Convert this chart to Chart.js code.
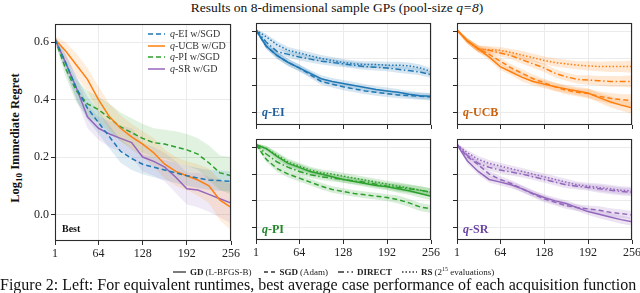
<!DOCTYPE html>
<html><head><meta charset="utf-8">
<script src="https://cdn.jsdelivr.net/npm/chart.js@4.4.0/dist/chart.umd.min.js"></script>
<style>
html,body{margin:0;padding:0;background:#fff;overflow:hidden;width:640px;height:293px;}
body{position:relative;font-family:"Liberation Serif","DejaVu Serif",serif;color:#111;}
.box{position:absolute;}
.txt{position:absolute;white-space:nowrap;}
.lbl{position:absolute;white-space:nowrap;font-weight:bold;font-size:12px;line-height:12px;}
.lg{position:absolute;font-size:10px;line-height:11.7px;color:#333;}
.lg div{display:flex;align-items:center;}
.lg svg{margin-right:5px;}
.blg{position:absolute;font-size:9px;display:flex;align-items:center;color:#222;}
.blg svg{margin-right:4px;}
.blg b{margin-right:2px;}
</style></head><body>

<div class="txt" style="left:0;width:674px;top:0;text-align:center;font-size:13.5px;">Results on 8-dimensional sample GPs (pool-size <i>q=8</i>)</div>
<div class="txt" style="left:16px;top:138px;font-size:12.5px;font-weight:bold;transform:translate(-50%,-50%) rotate(-90deg);">Log<sub style="font-size:9px">10</sub> Immediate Regret</div>

<div class="box" style="left:20px;top:15px;"><canvas id="chBest" width="223" height="250"></canvas></div>
<div class="box" style="left:244px;top:17px;"><canvas id="chEI" width="199" height="114"></canvas></div>
<div class="box" style="left:445px;top:17px;"><canvas id="chUCB" width="199" height="114"></canvas></div>
<div class="box" style="left:244px;top:133px;"><canvas id="chPI" width="199" height="131"></canvas></div>
<div class="box" style="left:445px;top:133px;"><canvas id="chSR" width="199" height="131"></canvas></div>

<div class="lg" style="left:148px;top:28px;">
  <div><svg width="17" height="4"><line x1="0" y1="2" x2="17" y2="2" stroke="#1f77b4" stroke-width="1.5" stroke-dasharray="5,3"/></svg><span><i>q</i>-EI w/SGD</span></div>
  <div><svg width="17" height="4"><line x1="0" y1="2" x2="17" y2="2" stroke="#ff7f0e" stroke-width="1.5"/></svg><span><i>q</i>-UCB w/GD</span></div>
  <div><svg width="17" height="4"><line x1="0" y1="2" x2="17" y2="2" stroke="#2ca02c" stroke-width="1.5" stroke-dasharray="5,3"/></svg><span><i>q</i>-PI w/SGD</span></div>
  <div><svg width="17" height="4"><line x1="0" y1="2" x2="17" y2="2" stroke="#9467bd" stroke-width="1.5"/></svg><span><i>q</i>-SR w/GD</span></div>
</div>

<div class="lbl" style="left:62px;top:223px;font-size:10px;color:#111;">Best</div>
<div class="lbl" style="left:262px;top:106px;color:#1f5f9c;"><i>q</i>-EI</div>
<div class="lbl" style="left:463px;top:106px;color:#c8600c;"><i>q</i>-UCB</div>
<div class="lbl" style="left:262px;top:223px;color:#23862a;"><i>q</i>-PI</div>
<div class="lbl" style="left:463px;top:223px;color:#6a46a3;"><i>q</i>-SR</div>

<div class="blg" style="left:173px;top:266px;">
  <svg width="13" height="4"><line x1="0" y1="2" x2="13" y2="2" stroke="#333" stroke-width="1.3"/></svg><b>GD</b><span style="margin-right:12px">(L-BFGS-B)</span>
  <svg width="12" height="4"><line x1="0" y1="2" x2="12" y2="2" stroke="#333" stroke-width="1.3" stroke-dasharray="4,3"/></svg><b>SGD</b><span style="margin-right:10px">(Adam)</span>
  <svg width="15" height="4"><line x1="0" y1="2" x2="15" y2="2" stroke="#333" stroke-width="1.3" stroke-dasharray="6,3,1.5,3"/></svg><b style="margin-right:10px">DIRECT</b>
  <svg width="15" height="4"><line x1="0" y1="2" x2="15" y2="2" stroke="#333" stroke-width="1.3" stroke-dasharray="1.5,2"/></svg><b>RS</b><span>(2<sup style="font-size:6px">15</sup> evaluations)</span>
</div>

<div class="txt" style="left:0;top:277px;font-size:16px;line-height:16.5px;">Figure 2: Left: For equivalent runtimes, best average case performance of each acquisition function</div>

<script>
// evaluation counts and axis ticks
const evals = [1, 16, 32, 48, 64, 80, 96, 112, 128, 144, 160, 176, 192, 208, 224, 240, 256];
const xTicks = [1, 64, 128, 192, 256];
const yTicks = [0, 0.2, 0.4, 0.6];

// left panel: best optimizer per acquisition function
const bestEI  = [0.61, 0.53, 0.44, 0.37, 0.32, 0.27, 0.22, 0.195, 0.175, 0.165, 0.155, 0.145, 0.135, 0.127, 0.12, 0.118, 0.115];
const bestUCB = [0.61, 0.57, 0.52, 0.47, 0.40, 0.34, 0.30, 0.27, 0.245, 0.215, 0.175, 0.15, 0.135, 0.12, 0.10, 0.05, 0.025];
const bestPI  = [0.61, 0.51, 0.43, 0.385, 0.365, 0.335, 0.305, 0.285, 0.265, 0.25, 0.245, 0.235, 0.225, 0.21, 0.18, 0.145, 0.135];
const bestSR  = [0.61, 0.53, 0.44, 0.34, 0.30, 0.28, 0.265, 0.25, 0.20, 0.185, 0.165, 0.13, 0.09, 0.085, 0.07, 0.055, 0.04];
const bestEIErr  = [0.01, 0.03, 0.04, 0.04, 0.04, 0.04, 0.04, 0.04, 0.035, 0.035, 0.035, 0.035, 0.035, 0.035, 0.035, 0.035, 0.035];
const bestUCBErr = [0.01, 0.03, 0.04, 0.04, 0.045, 0.045, 0.045, 0.045, 0.045, 0.05, 0.05, 0.05, 0.05, 0.055, 0.06, 0.07, 0.08];
const bestPIErr  = [0.01, 0.03, 0.04, 0.045, 0.045, 0.05, 0.05, 0.05, 0.05, 0.05, 0.05, 0.055, 0.055, 0.055, 0.06, 0.06, 0.065];
const bestSRErr  = [0.01, 0.03, 0.04, 0.04, 0.04, 0.045, 0.045, 0.05, 0.05, 0.05, 0.05, 0.055, 0.055, 0.06, 0.06, 0.065, 0.07];

// q-EI
const eiGD     = [0.61, 0.49, 0.42, 0.37, 0.33, 0.29, 0.25, 0.23, 0.215, 0.20, 0.185, 0.17, 0.16, 0.15, 0.135, 0.125, 0.12];
const eiSGD    = [0.61, 0.49, 0.42, 0.37, 0.33, 0.28, 0.23, 0.21, 0.19, 0.175, 0.16, 0.15, 0.14, 0.13, 0.125, 0.12, 0.115];
const eiDIRECT = [0.61, 0.52, 0.45, 0.43, 0.41, 0.395, 0.38, 0.37, 0.36, 0.35, 0.34, 0.335, 0.33, 0.32, 0.31, 0.30, 0.28];
const eiRS     = [0.61, 0.56, 0.50, 0.46, 0.44, 0.42, 0.40, 0.385, 0.37, 0.36, 0.355, 0.355, 0.35, 0.35, 0.345, 0.33, 0.305];
const eiErr    = [0.01, 0.02, 0.025, 0.025, 0.025, 0.025, 0.025, 0.025, 0.025, 0.025, 0.025, 0.025, 0.025, 0.025, 0.025, 0.025, 0.025];

// q-UCB
const ucbGD     = [0.61, 0.53, 0.47, 0.41, 0.34, 0.30, 0.26, 0.23, 0.21, 0.19, 0.175, 0.16, 0.145, 0.11, 0.08, 0.055, 0.035];
const ucbSGD    = [0.61, 0.53, 0.47, 0.43, 0.38, 0.33, 0.29, 0.25, 0.22, 0.19, 0.165, 0.15, 0.14, 0.12, 0.105, 0.095, 0.09];
const ucbDIRECT = [0.61, 0.53, 0.47, 0.46, 0.44, 0.42, 0.39, 0.36, 0.33, 0.29, 0.265, 0.245, 0.24, 0.235, 0.23, 0.23, 0.23];
const ucbRS     = [0.61, 0.53, 0.47, 0.465, 0.46, 0.445, 0.425, 0.405, 0.385, 0.37, 0.36, 0.35, 0.345, 0.34, 0.34, 0.34, 0.34];
const ucbErr    = [0.01, 0.02, 0.025, 0.025, 0.025, 0.025, 0.03, 0.03, 0.03, 0.03, 0.03, 0.03, 0.035, 0.035, 0.04, 0.04, 0.045];

// q-PI
const piGD     = [0.62, 0.59, 0.53, 0.48, 0.45, 0.42, 0.40, 0.38, 0.36, 0.345, 0.33, 0.315, 0.305, 0.29, 0.275, 0.255, 0.235];
const piSGD    = [0.62, 0.51, 0.44, 0.40, 0.37, 0.34, 0.31, 0.285, 0.27, 0.255, 0.245, 0.235, 0.225, 0.21, 0.185, 0.155, 0.14];
const piDIRECT = [0.62, 0.55, 0.49, 0.45, 0.42, 0.395, 0.38, 0.37, 0.36, 0.35, 0.34, 0.325, 0.31, 0.30, 0.29, 0.28, 0.265];
const piRS     = [0.62, 0.59, 0.54, 0.49, 0.46, 0.43, 0.41, 0.40, 0.385, 0.37, 0.355, 0.34, 0.325, 0.31, 0.295, 0.28, 0.265];
const piErr    = [0.01, 0.02, 0.025, 0.025, 0.025, 0.025, 0.025, 0.025, 0.025, 0.025, 0.025, 0.025, 0.025, 0.03, 0.03, 0.03, 0.03];

// q-SR
const srGD     = [0.62, 0.50, 0.42, 0.36, 0.34, 0.32, 0.29, 0.255, 0.225, 0.20, 0.18, 0.15, 0.12, 0.10, 0.08, 0.06, 0.045];
const srSGD    = [0.62, 0.53, 0.47, 0.40, 0.36, 0.33, 0.29, 0.25, 0.215, 0.19, 0.165, 0.15, 0.14, 0.13, 0.115, 0.105, 0.095];
const srDIRECT = [0.62, 0.54, 0.48, 0.45, 0.43, 0.415, 0.40, 0.38, 0.36, 0.34, 0.32, 0.31, 0.30, 0.29, 0.28, 0.27, 0.265];
const srRS     = [0.62, 0.56, 0.51, 0.48, 0.46, 0.44, 0.42, 0.40, 0.38, 0.36, 0.34, 0.32, 0.31, 0.30, 0.29, 0.28, 0.275];
const srErr    = [0.01, 0.02, 0.025, 0.025, 0.025, 0.025, 0.025, 0.025, 0.025, 0.025, 0.025, 0.025, 0.025, 0.03, 0.03, 0.03, 0.03];

const C = { ei: '#1f77b4', ucb: '#ff7f0e', pi: '#2ca02c', sr: '#9467bd' };
const dashes = { gd: [], sgd: [5, 3], direct: [6, 2.5, 1.5, 2.5], rs: [1.5, 2] };

const rgba = (hex, a) => {
  const n = parseInt(hex.slice(1), 16);
  return `rgba(${n >> 16},${(n >> 8) & 255},${n & 255},${a})`;
};
const pts = arr => arr.map((v, i) => ({ x: evals[i], y: v }));

// plot frame on all four sides (matplotlib spines)
const frame = {
  id: 'frame',
  afterDraw(c) {
    const a = c.chartArea, x = c.ctx;
    x.save();
    x.strokeStyle = '#2b2b2b'; x.lineWidth = 1.1;
    x.strokeRect(Math.round(a.left) + 0.5, Math.round(a.top) + 0.5, Math.round(a.right - a.left) - 1, Math.round(a.bottom - a.top) - 1);
    x.restore();
  }
};

function panel(id, series, o) {
  const ds = [];
  series.forEach(s => {
    ds.push({ data: pts(s.data.map((v, i) => v + s.err[i])), borderWidth: 0, pointRadius: 0, fill: false });
    ds.push({ data: pts(s.data.map((v, i) => v - s.err[i])), borderWidth: 0, pointRadius: 0, fill: '-1', backgroundColor: rgba(s.color, o.alpha) });
  });
  series.forEach(s => ds.push({ data: pts(s.data), borderColor: s.color, borderWidth: 1.5, borderDash: s.dash, pointRadius: 0, fill: false, tension: 0 }));

  const tickFont = { family: '"Liberation Serif", serif', size: 12 };
  return new Chart(document.getElementById(id), {
    type: 'line',
    data: { datasets: ds },
    options: {
      responsive: false, animation: false, events: [],
      layout: { padding: { top: o.padTop, right: 12, left: 0, bottom: 0 } },
      plugins: { legend: { display: false }, tooltip: { enabled: false }, filler: { drawTime: 'beforeDatasetsDraw' } },
      scales: {
        x: {
          type: 'linear', min: 1, max: 256,
          afterBuildTicks: s => { s.ticks = xTicks.map(v => ({ value: v })); },
          afterFit: s => { s.height = o.xH; },
          grid: { color: '#ebebeb', tickColor: '#2b2b2b', tickLength: 4 },
          border: { display: false },
          ticks: { display: o.showX, font: tickFont, color: '#222', padding: 2, maxRotation: 0, autoSkip: false }
        },
        y: {
          min: -0.092, max: 0.662,
          afterBuildTicks: s => { s.ticks = yTicks.map(v => ({ value: v })); },
          afterFit: s => { s.width = o.yW; },
          grid: { color: '#ebebeb', tickColor: '#2b2b2b', tickLength: 4 },
          border: { display: false },
          ticks: { display: o.showY, font: tickFont, color: '#222', padding: 2, callback: v => v.toFixed(1) }
        }
      }
    },
    plugins: [frame]
  });
}

const mk = (color, list, err) => list.map(([data, dash]) => ({ data, dash, color, err }));

panel('chBest', [
  { data: bestEI, err: bestEIErr, color: C.ei, dash: dashes.sgd },
  { data: bestUCB, err: bestUCBErr, color: C.ucb, dash: dashes.gd },
  { data: bestPI, err: bestPIErr, color: C.pi, dash: dashes.sgd },
  { data: bestSR, err: bestSRErr, color: C.sr, dash: dashes.gd }
], { padTop: 7, xH: 24, yW: 35, showX: true, showY: true, alpha: 0.14 });

panel('chEI', mk(C.ei, [[eiRS, dashes.rs], [eiDIRECT, dashes.direct], [eiSGD, dashes.sgd], [eiGD, dashes.gd]], eiErr),
  { padTop: 6, xH: 6, yW: 12, showX: false, showY: false, alpha: 0.18 });
panel('chUCB', mk(C.ucb, [[ucbRS, dashes.rs], [ucbDIRECT, dashes.direct], [ucbSGD, dashes.sgd], [ucbGD, dashes.gd]], ucbErr),
  { padTop: 6, xH: 6, yW: 12, showX: false, showY: false, alpha: 0.18 });
panel('chPI', mk(C.pi, [[piRS, dashes.rs], [piDIRECT, dashes.direct], [piSGD, dashes.sgd], [piGD, dashes.gd]], piErr),
  { padTop: 6, xH: 24, yW: 12, showX: true, showY: false, alpha: 0.18 });
panel('chSR', mk(C.sr, [[srRS, dashes.rs], [srDIRECT, dashes.direct], [srSGD, dashes.sgd], [srGD, dashes.gd]], srErr),
  { padTop: 6, xH: 24, yW: 12, showX: true, showY: false, alpha: 0.18 });
</script>
</body></html>
